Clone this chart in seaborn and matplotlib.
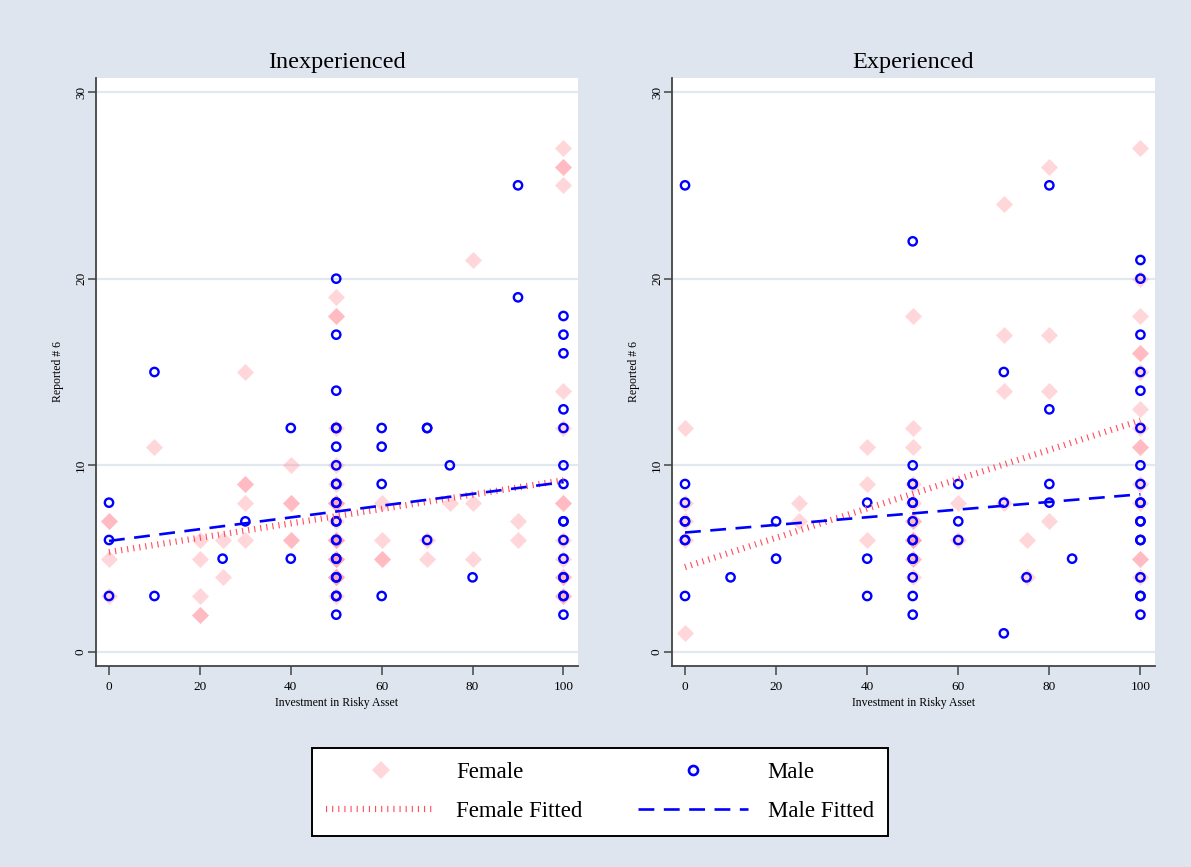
import numpy as np
import pandas as pd
import matplotlib
matplotlib.use("Agg")
import matplotlib.pyplot as plt
import seaborn as sns
from matplotlib.lines import Line2D

# ---------------- data ----------------
panel_titles = ["Inexperienced", "Experienced"]
x_ticks = [0, 20, 40, 60, 80, 100]
y_ticks = [0, 10, 20, 30]
x_label = "Investment in Risky Asset"
y_label = "Reported # 6"

inexp_female_x = [0]*4 + [10] + [20]*5 + [25]*2 + [30]*5 + [40]*5 + [50]*20 + [60]*4 + [70]*2 + [75] + [80]*3 + [90]*2 + [100]*14
inexp_female_y = [7, 7, 5, 3,
                  11,
                  6, 5, 3, 2, 2,
                  6, 4,
                  15, 9, 9, 8, 6,
                  10, 8, 8, 6, 6,
                  19, 18, 18, 12, 10, 9, 8, 8, 8, 7, 6, 6, 6, 5, 5, 5, 4, 4, 4, 3,
                  8, 6, 5, 5,
                  6, 5,
                  8,
                  21, 8, 5,
                  7, 6,
                  27, 26, 26, 25, 14, 12, 8, 8, 6, 5, 4, 4, 3, 3]

inexp_male_x = [0]*3 + [10]*2 + [25] + [30] + [40]*2 + [50]*22 + [60]*4 + [70]*3 + [75] + [80] + [90]*2 + [100]*16
inexp_male_y = [8, 6, 3,
                15, 3,
                5,
                7,
                12, 5,
                20, 17, 14, 12, 12, 11, 10, 9, 9, 8, 8, 7, 7, 6, 6, 5, 5, 4, 4, 3, 3, 2,
                12, 11, 9, 3,
                12, 12, 6,
                10,
                4,
                25, 19,
                18, 17, 16, 13, 12, 10, 9, 7, 7, 6, 5, 4, 4, 3, 3, 2]

exp_female_x = [0]*5 + [25]*2 + [40]*3 + [50]*13 + [60]*2 + [70]*4 + [75]*2 + [80]*4 + [100]*15
exp_female_y = [12, 8, 7, 6, 1,
                8, 7,
                11, 9, 6,
                18, 12, 11, 9, 8, 7, 7, 6, 6, 6, 5, 5, 4,
                8, 6,
                24, 17, 14, 8,
                6, 4,
                26, 17, 14, 7,
                27, 20, 18, 16, 16, 15, 13, 12, 11, 11, 9, 8, 5, 5, 4]

exp_male_x = [0]*8 + [10] + [20]*2 + [40]*3 + [50]*14 + [60]*3 + [70]*3 + [75] + [80]*4 + [85] + [100]*18
exp_male_y = [25, 9, 8, 7, 7, 6, 6, 3,
              4,
              7, 5,
              8, 5, 3,
              22, 10, 9, 9, 8, 8, 7, 6, 6, 5, 5, 4, 3, 2,
              9, 7, 6,
              15, 8, 1,
              4,
              25, 13, 9, 8,
              5,
              21, 20, 17, 15, 14, 12, 10, 9, 8, 8, 7, 7, 6, 6, 4, 3, 3, 2]

fit_x = [0, 100]
inexp_female_fit = [5.35, 9.2]
inexp_male_fit = [5.95, 9.1]
exp_female_fit = [4.55, 12.4]
exp_male_fit = [6.4, 8.45]

legend_labels = ["Female", "Male", "Female Fitted", "Male Fitted"]

# ---------------- style ----------------
sns.set_theme(style="white")
plt.rcParams["font.family"] = ["Liberation Serif", "DejaVu Serif"]
plt.rcParams["text.color"] = "black"
plt.rcParams["axes.labelcolor"] = "black"
plt.rcParams["xtick.color"] = "black"
plt.rcParams["ytick.color"] = "black"

BG = "#dfe5ef"
GRID = "#e2e7f0"
SPINE = "#444444"
PINK = "#ff8a95"
BLUE = "#0000ff"
RED = "#ff4d5e"

fig = plt.figure(figsize=(11.91, 8.67), dpi=100, facecolor=BG)
W, H = 1191, 867
def box(l, t, r, b):
    return [l / W, 1 - b / H, (r - l) / W, (b - t) / H]

ax_left = fig.add_axes(box(96, 78, 578, 666))
ax_right = fig.add_axes(box(672, 78, 1155, 666))

panels = [
    (ax_left, inexp_female_x, inexp_female_y, inexp_male_x, inexp_male_y, inexp_female_fit, inexp_male_fit),
    (ax_right, exp_female_x, exp_female_y, exp_male_x, exp_male_y, exp_female_fit, exp_male_fit),
]

female_dash = (0, (0.18, 0.8))
male_dash = (0, (6.0, 3.6))

for (ax, fx, fy, mx, my, ffit, mfit), title in zip(panels, panel_titles):
    ax.set_facecolor("white")
    for yv in y_ticks:
        ax.axhline(yv, color=GRID, lw=1.6, zorder=0)
    fdf = pd.DataFrame({"x": fx, "y": fy})
    mdf = pd.DataFrame({"x": mx, "y": my})
    sns.scatterplot(data=fdf, x="x", y="y", ax=ax, marker="D", s=75,
                    color=PINK, alpha=0.35, linewidth=0, zorder=2, legend=False)
    sns.scatterplot(data=mdf, x="x", y="y", ax=ax, marker="o", s=36,
                    facecolors="none", edgecolor=BLUE, linewidth=1.7, zorder=3, legend=False)
    fitdf = pd.DataFrame({"x": fit_x, "f": ffit, "m": mfit})
    sns.lineplot(data=fitdf, x="x", y="f", ax=ax, color=RED, lw=4.5,
                 linestyle=female_dash, zorder=4)
    sns.lineplot(data=fitdf, x="x", y="m", ax=ax, color=BLUE, lw=1.9,
                 linestyle=male_dash, zorder=5)

    ax.set_xlim(-2.86, 103.2)
    ax.set_ylim(-0.75, 30.75)
    ax.set_xticks(x_ticks)
    ax.set_yticks(y_ticks)
    ax.set_xticklabels([str(v) for v in x_ticks], fontsize=9.5)
    ax.set_yticklabels([str(v) for v in y_ticks], fontsize=9.5, rotation=90, va="center")
    ax.tick_params(axis="x", direction="out", length=6.5, width=1.1, color=SPINE,
                   bottom=True, pad=4)
    ax.tick_params(axis="y", direction="out", length=6.0, width=1.1, color=SPINE,
                   left=True, pad=0.5)
    ax.set_xlabel(x_label, fontsize=8.5, labelpad=3)
    ax.set_ylabel(y_label, fontsize=8.5, labelpad=8)
    ax.set_title(title, fontsize=17.5, pad=7)
    for side in ["top", "right"]:
        ax.spines[side].set_visible(False)
    for side in ["left", "bottom"]:
        ax.spines[side].set_color(SPINE)
        ax.spines[side].set_linewidth(1.3)
    ax.grid(False)

handles = [
    Line2D([], [], marker="D", linestyle="none", markersize=9.5,
           markerfacecolor=PINK, markeredgewidth=0, alpha=0.35),
    Line2D([], [], color=RED, lw=4.5, linestyle=female_dash),
    Line2D([], [], marker="o", linestyle="none", markersize=6.5,
           markerfacecolor="none", markeredgecolor=BLUE, markeredgewidth=1.9),
    Line2D([], [], color=BLUE, lw=1.9, linestyle=male_dash),
]
labels = [legend_labels[0], legend_labels[2], legend_labels[1], legend_labels[3]]
leg = fig.legend(handles, labels, ncol=2, loc="center",
                 bbox_to_anchor=(600 / W, 1 - 792 / H),
                 fontsize=16.5, frameon=True, fancybox=False, framealpha=1.0,
                 handlelength=4.8, handletextpad=0.87, columnspacing=2.4,
                 labelspacing=0.78, borderpad=0.62, borderaxespad=0)
leg.get_frame().set_edgecolor("black")
leg.get_frame().set_linewidth(1.4)
leg.get_frame().set_facecolor("white")

fig.savefig("out.png", dpi=100, facecolor=BG)
